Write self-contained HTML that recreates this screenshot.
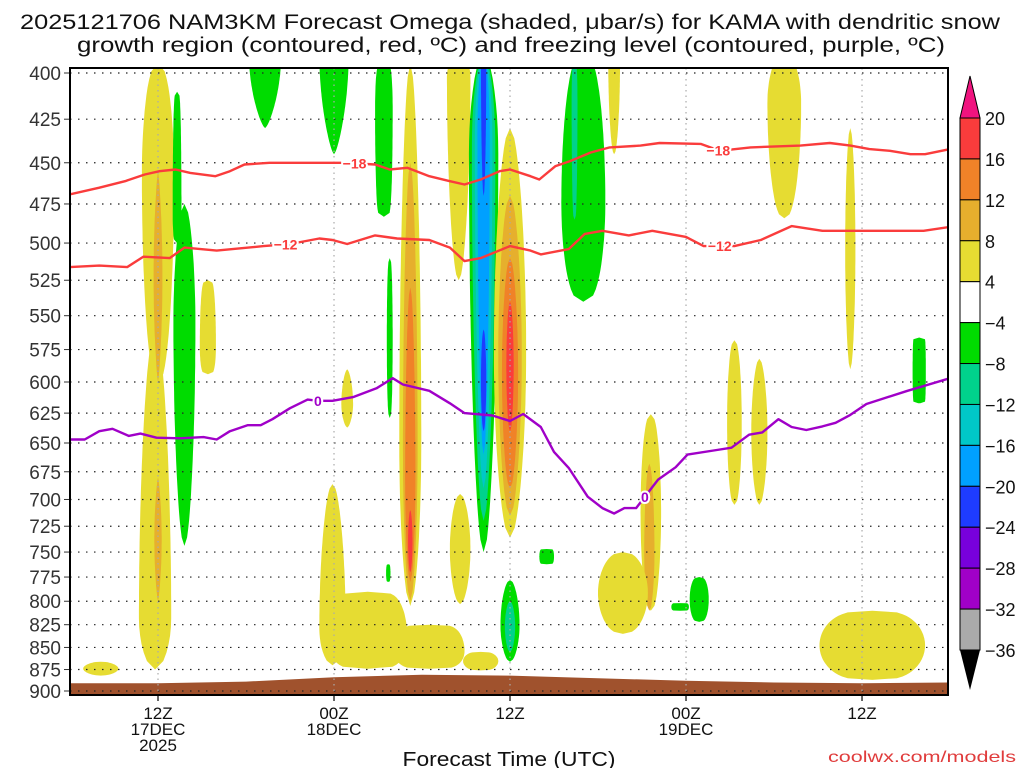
<!DOCTYPE html>
<html><head><meta charset="utf-8"><style>
html,body{margin:0;padding:0;background:#fff;}
svg{display:block;font-family:"Liberation Sans","DejaVu Sans",sans-serif;}
</style></head><body>
<svg id="chart" width="1024" height="768" viewBox="0 0 1024 768" xmlns="http://www.w3.org/2000/svg">
<text x="510" y="29" font-size="21" text-anchor="middle" fill="#111" textLength="980" lengthAdjust="spacingAndGlyphs">2025121706 NAM3KM Forecast Omega (shaded, μbar/s) for KAMA with dendritic snow</text>
<text x="511" y="52" font-size="21" text-anchor="middle" fill="#111" textLength="868" lengthAdjust="spacingAndGlyphs">growth region (contoured, red, ºC) and freezing level (contoured, purple, ºC)</text>
<defs><clipPath id="plotclip"><rect x="70" y="68" width="878" height="627"/></clipPath></defs>
<g id="shading" clip-path="url(#plotclip)"></g>
<g id="ground" clip-path="url(#plotclip)"></g>
<g id="grid"></g>
<g id="contours" clip-path="url(#plotclip)"></g>
<rect x="70" y="68" width="878" height="627" fill="none" stroke="#000" stroke-width="2"/>
<g id="yaxis"></g>
<g id="xaxis"></g>
<text x="509" y="766" font-size="20" text-anchor="middle" fill="#111" textLength="213" lengthAdjust="spacingAndGlyphs">Forecast Time (UTC)</text>
<text x="1016" y="762" font-size="16" text-anchor="end" fill="#e03c3c" textLength="188" lengthAdjust="spacingAndGlyphs">coolwx.com/models</text>
<g id="colorbar"></g>
</svg>
<script>
// ---- data ----
const pressureTicks=[400,425,450,475,500,525,550,575,600,625,650,675,700,725,750,775,800,825,850,875,900];
const timeTickHours=[6,18,30,42,54];
const timeTickLine1=["12Z","00Z","12Z","00Z","12Z"];
const timeTickLine2=["17DEC","18DEC","","19DEC",""];
const timeTickLine3=["2025","","","",""];
const cbLevels=[20,16,12,8,4,-4,-8,-12,-16,-20,-24,-28,-32,-36];
const cbColors=["#fa3c3c","#f08228","#e6af2d","#e6dc32","#ffffff","#00dc00","#00d28c","#00c8c8","#00a0ff","#1e3cff","#7800dc","#a000c8","#aaaaaa"];
const cbAbove="#f0147f", cbBelow="#000000";
// shaded blobs (omega)
const blobHour=[6,5.8,6,6,9.4,18.9,17.9,20.3,24.5,26.6,28,23.2,23.2,23.2,23.2,26.5,28.2,28.2,28.2,28.2,28.2,28.2,30,30,30,30,30,30,7.8,7.3,13.3,18,21.4,21.8,21.7,35,34.4,48.7,53.2,37.1,45.3,47,57.9,39.6,39.5,37.7,32.5,42.9,41.6,54.7,2.1,60];
const blobTop=[395,560,455,680,525,590,686,790,825,695,855,395,450,530,710,390,390,390,390,390,390,560,430,470,510,540,778,800,475,410,390,390,395,510,762,390,390,390,430,390,568,582,566,626,668,750,747,775,802,810,866,738];
const blobBot=[600,875,600,800,594,637,870,874,874,803,876,805,800,780,770,525,750,720,690,660,470,640,736,715,690,640,866,855,744,500,430,445,483,629,780,540,485,484,590,445,705,705,617,810,810,835,762,822,810,887,882,760];
const blobWidth=[1.1,1.1,0.3,0.25,0.55,0.4,0.9,2.7,2.4,0.7,1.2,0.75,0.5,0.35,0.15,0.8,1.0,0.8,0.6,0.42,0.18,0.18,1.1,0.8,0.55,0.25,0.65,0.35,0.75,0.3,1.1,1.0,0.6,0.2,0.15,1.5,0.2,1.15,0.35,0.4,0.5,0.55,0.45,0.7,0.35,1.7,0.5,0.65,0.6,3.6,1.2,0.2];
const blobValue=[6,6,10,10,6,6,6,6,6,6,6,6,10,14,18,6,-6,-10,-14,-18,-22,-22,6,10,14,18,-6,-10,-6,-6,-6,-6,-6,-6,-6,-6,-10,6,6,6,6,6,-6,6,10,6,-6,-6,-6,6,6,-6];
const blobPeak=[0.35,0.85,0.5,0.5,0.7,0.6,0.8,0.6,0.6,0.5,0.5,0.7,0.65,0.65,0.5,0.1,0.2,0.2,0.2,0.2,0.1,0.5,0.55,0.5,0.5,0.5,0.55,0.5,0.35,0.8,0,0,0.3,0.5,0.5,0.6,0.3,0.3,0.5,0.1,0.5,0.5,0.5,0.5,0.6,0.5,0.5,0.5,0.5,0.5,0.5,0.5];
const blobSharp=[0.4,0.5,0.7,0.7,0.2,0.6,0.5,0.2,0.2,0.5,0.3,0.5,0.5,0.5,0.5,0.5,0.5,0.5,0.5,0.5,0.5,0.5,0.5,0.5,0.5,0.5,0.5,0.5,0.5,0.2,0.7,0.7,0.15,0.3,0.2,0.35,0.3,0.4,0.5,0.5,0.4,0.5,0.05,0.4,0.5,0.4,0.1,0.3,0.1,0.3,0.5,0.5];
// contours
const m18Hours=[0,2,3.75,5.1,6.1,7.2,8.2,9.9,10.9,11.9,13.6,15.7,18.75,20.8,21.8,23,24.5,25.9,26.9,28,29.3,30,31.4,32,33.1,34.1,35.5,36.8,38.9,40.2,43,44.3,46.4,49.8,51.8,53.2,54.5,55.9,57.3,58.3,60];
const m18Press=[469,465,461,457,455,454,456,458,455,451,450,450,450,451,454,453,458,461,463,460,455,454,458,460,452,449,444,441,440,438.5,439,443,441,440,438.5,440,442,443,445,445,442];
const m12Hours=[0,2,3.9,5,6.8,7.8,10,13.2,15,17,17.9,18.9,20.8,22.3,24.5,25.9,26.9,28,30,31.4,32.1,34,35.1,36.3,38.1,39.7,42,43.2,45.3,47.1,49.2,51.3,54.7,58.2,60];
const m12Press=[516,515,516,509,510,503,505,502,500.6,497,498,500.6,495,497,498,503,512,510,502,505,507.5,504,494,492,495,492,496,502,502,498,489,492,492,492,489.5];
const frzHours=[0,1,2,2.9,4,4.8,5.9,7.5,9.1,10,10.9,12.1,13,13.8,15,16.2,16.9,17.9,19.3,20.9,22,22.7,24.5,25.9,26.9,28.8,30,30.9,32.1,33,34,35.3,36.3,37.1,37.8,38.6,40.1,41.3,42.1,44.1,45.1,46.3,47.2,48.3,49.2,50.2,51.3,52.2,53.2,54.3,57.1,60];
const frzPress=[647,647,640,638,644,642,645.5,646,645,647,640,635,635,630,621,614,615,615,612,605,597,602,607,617,625,627,631.5,625.7,636.5,657.6,671.6,697.5,708,713,708,708,682,671,660,656,654,643,641,630,636.5,639,636,633,626.5,617.6,607,597];
const m18LabelHours=[19.4,44.2], m12LabelHours=[14.7,44.3], frzLabelHours=[16.9,39.2];
const sfcHours=[0,6,12,18,24,30,36,42,48,54,60];
const sfcPress=[891,891,889,884,881,882,885,888,890,891,890];

// ---- scales ----
const X0=70, PXH=14.667;
function xs(h){return X0+h*PXH;}
function ys(p){return 73+Math.log(p/400)/Math.log(900/400)*618;}
const NS="http://www.w3.org/2000/svg";
function mk(tag,attrs,parent){const e=document.createElementNS(NS,tag);for(const k in attrs)e.setAttribute(k,attrs[k]);parent.appendChild(e);return e;}
function colorFor(v){for(let i=0;i<cbColors.length;i++){if(v<=cbLevels[i]&&v>=cbLevels[i+1])return cbColors[i];}return v>20?cbAbove:cbBelow;}
function interp(hs,ps,h){for(let i=0;i<hs.length-1;i++){if(h>=hs[i]&&h<=hs[i+1]){const t=(h-hs[i])/(hs[i+1]-hs[i]);return ps[i]+t*(ps[i+1]-ps[i]);}}return ps[ps.length-1];}

// ---- shading ----
const shadingG=document.getElementById('shading');
for(let b=0;b<blobHour.length;b++){
  const yt=ys(blobTop[b]), yb=ys(blobBot[b]), pk=blobPeak[b], sh=blobSharp[b];
  const N=40, L=[], R=[];
  for(let i=0;i<=N;i++){
    const t=i/N; let u;
    if(pk<=0) u=0.5+0.5*t; else if(pk>=1) u=0.5*t; else u=t<pk?0.5*t/pk:0.5+0.5*(t-pk)/(1-pk);
    const hw=blobWidth[b]*PXH*Math.pow(Math.max(Math.sin(Math.PI*u),0),sh);
    const y=yt+(yb-yt)*t, cx=xs(blobHour[b]);
    L.push((cx-hw).toFixed(1)+','+y.toFixed(1)); R.unshift((cx+hw).toFixed(1)+','+y.toFixed(1));
  }
  const poly=mk('polygon',{points:L.concat(R).join(' '),fill:colorFor(blobValue[b])},shadingG);
  
  
}

// ---- ground ----
const groundG=document.getElementById('ground');
{let pts=[]; for(let i=0;i<sfcHours.length;i++)pts.push(xs(sfcHours[i]).toFixed(1)+','+ys(sfcPress[i]).toFixed(1));
 pts.push(xs(60)+',700'); pts.push(xs(0)+',700');
 const g=mk('polygon',{points:pts.join(' '),fill:'#a0522d'},groundG);
 
 }

// ---- grid ----
const gridG=document.getElementById('grid');
pressureTicks.forEach(p=>{const l=mk('line',{x1:70,x2:948,y1:ys(p),y2:ys(p),stroke:'#222','stroke-width':1.2,'stroke-dasharray':'1.5,6.5'},gridG);
 
 });
timeTickHours.forEach(h=>{const l=mk('line',{x1:xs(h),x2:xs(h),y1:68,y2:695,stroke:'#aaa','stroke-width':1.2,'stroke-dasharray':'1.5,4'},gridG);
 
 });

// ---- contours ----
const contG=document.getElementById('contours');
function drawLine(hs,ps,color,name,labHours,labText){
  const d=hs.map((h,i)=>(i?'L':'M')+xs(h).toFixed(1)+','+ys(ps[i]).toFixed(1)).join(' ');
  const pth=mk('path',{d:d,fill:'none',stroke:color,'stroke-width':2.4,'stroke-linejoin':'round'},contG);
  
  
  labHours.forEach(h=>{
    const y=ys(interp(hs,ps,h));
    const t=mk('text',{x:xs(h),y:y+5,'font-size':14,'font-weight':'bold','text-anchor':'middle',fill:color,stroke:'#fff','stroke-width':4,'paint-order':'stroke'},contG);
    t.textContent=labText;
    
    
  });
}
drawLine(m18Hours,m18Press,'#fa3c3c','minus18-contour',m18LabelHours,'−18');
drawLine(m12Hours,m12Press,'#fa3c3c','minus12-contour',m12LabelHours,'−12');
drawLine(frzHours,frzPress,'#a000c8','freezing-level-contour',frzLabelHours,'0');

// ---- axes ----
const yaxG=document.getElementById('yaxis');
pressureTicks.forEach(p=>{
  const t=mk('text',{x:61,y:ys(p)+7,'font-size':19,'text-anchor':'end',fill:'#333'},yaxG);
  t.textContent=p;
  
  
  mk('line',{x1:64,x2:69,y1:ys(p),y2:ys(p),stroke:'#333','stroke-width':1},yaxG);
});
const xaxG=document.getElementById('xaxis');
timeTickHours.forEach((h,i)=>{
  mk('line',{x1:xs(h),x2:xs(h),y1:695,y2:701,stroke:'#000','stroke-width':1.2},xaxG);
  [timeTickLine1[i],timeTickLine2[i],timeTickLine3[i]].forEach((s,j)=>{
    if(!s)return;
    const t=mk('text',{x:xs(h),y:719+j*16,'font-size':17,'text-anchor':'middle',fill:'#111'},xaxG);
    t.textContent=s;
    
    
  });
});

// ---- colorbar ----
const cbG=document.getElementById('colorbar');
const cbX=960, cbW=20, cbY0=118, cbStep=(650-118)/13;
const cbTopTri=mk('polygon',{points:`${cbX},${cbY0} ${cbX+cbW/2},76 ${cbX+cbW},${cbY0}`,fill:cbAbove,stroke:'#000','stroke-width':1},cbG);


cbColors.forEach((c,i)=>{const r=mk('rect',{x:cbX,y:cbY0+i*cbStep,width:cbW,height:cbStep,fill:c,stroke:'#000','stroke-width':1},cbG);
 
 });
const cbBotTri=mk('polygon',{points:`${cbX},650 ${cbX+cbW/2},690 ${cbX+cbW},650`,fill:cbBelow},cbG);


cbLevels.forEach((v,i)=>{const t=mk('text',{x:985,y:cbY0+i*cbStep+7,'font-size':18,fill:'#111'},cbG);
 t.textContent=(v<0?'−':'')+Math.abs(v);
 
 });
</script>
</body></html>
